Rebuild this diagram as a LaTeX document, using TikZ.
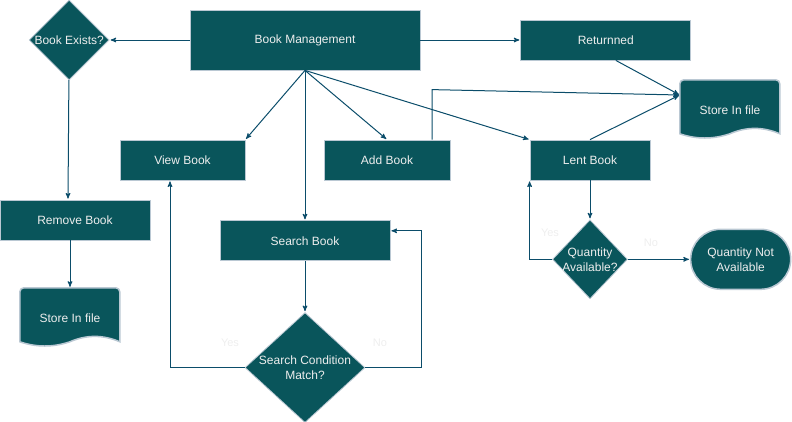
\documentclass[tikz,border=0pt]{standalone}
\usepackage{fontspec}
\setmainfont{Liberation Sans}
\usetikzlibrary{arrows,positioning,shapes.geometric,backgrounds}
\definecolor{boxfill}{HTML}{09555B}
\definecolor{boxline}{HTML}{BAC8D3}
\definecolor{linkcol}{HTML}{0B4D6A}
\definecolor{boxtext}{HTML}{EEEEEE}

\newcommand{\storeshape}[1]{%
	\begin{scope}[on background layer]
		\filldraw[fill=boxfill,draw=boxline,line width=1.5pt,shift={(#1.north west)}]
			(0,54) [rounded corners=4pt] -- (0,0) -- (100,0) [sharp corners] -- (100,54)
			.. controls (83.3,46.8) and (66.7,46.8) .. (50,54)
			.. controls (33.3,59.6) and (16.7,59.6) .. (0,54) -- cycle;
	\end{scope}}

\begin{document}
\begin{tikzpicture}[->,>=stealth',shorten >=1pt,auto,x=1pt,y=-1pt,
		every node/.style={font=\fontsize{12}{15}\selectfont},
		every label/.style={text=boxtext,align=center},
		process node/.style={rectangle,draw=boxline,fill=boxfill,text=boxtext,line width=0.8pt,inner sep=0pt},
		decision node/.style={diamond,draw=boxline,fill=boxfill,line width=0.8pt,inner sep=0pt},
		store node/.style={rectangle,text=boxtext,minimum width=100pt,minimum height=60pt,inner sep=0pt},
		end node/.style={rectangle,rounded corners=30pt,draw=boxline,fill=boxfill,text=boxtext,line width=1.5pt,
			minimum width=100pt,minimum height=60pt,align=center,inner sep=0pt},
		answer node/.style={text=boxtext,font=\fontsize{11}{13}\selectfont},
		link/.style={color=linkcol,line width=1pt}]
	\useasboundingbox (0,0) rectangle (792,421);
	\node[process node,minimum width=230pt,minimum height=60pt] (0) at (305,40) {Book Management};
	\node[decision node,minimum width=80pt,minimum height=80pt,label=center:Book Exists?] (1) [left =80pt of 0] {};
	\node[process node,minimum width=170pt,minimum height=40pt] (2) [right =100pt of 0] {Returnned};
	\node[process node,minimum width=125pt,minimum height=40pt] (3) at (182.5,160) {View Book};
	\node[process node,minimum width=126pt,minimum height=40pt] (4) at (387,160) {Add Book};
	\node[process node,minimum width=120pt,minimum height=40pt] (5) at (590,160) {Lent Book};
	\node[process node,minimum width=170pt,minimum height=40pt] (6) [below =150pt of 0] {Search Book};
	\node[decision node,minimum width=120pt,minimum height=110pt,label={center:Search Condition\\Match?}] (7) [below =51pt of 6] {};
	\node[decision node,minimum width=75pt,minimum height=79pt,label={center:Quantity\\Available?}] (8) [below =39pt of 5] {};
	\node[end node] (9) [right =62pt of 8] {Quantity Not\\Available};
	\node[process node,minimum width=150pt,minimum height=40pt] (10) at (75,220) {Remove Book};
	\node[store node] (11) at (70,318) {Store In file};
	\node[store node] (12) at (730,110) {Store In file};
	\storeshape{11}
	\storeshape{12}
	\node[answer node] (100) at (230,343) {Yes};
	\node[answer node] (101) at (380,343) {No};
	\node[answer node] (102) at (550,233) {Yes};
	\node[answer node] (103) at (651,243) {No};
	%
	% Book Management to its actions.
	\path[link]
		(0) edge (1)
		(0) edge (2)
		(0.south) edge (3.north east)
		(0.south) edge (6)
		(0.south) edge (4.north)
		(0.south) edge (5.north west);
	%
	% Removing a book.
	\path[link]
		(1) edge ([xshift=-7pt]10.north)
		(10.south -| 11.north) edge (11.north);
	%
	% Returned, added and lent books go to the file.
	\coordinate (13) at ([yshift=15pt]12.west);
	\draw[link] ([xshift=10pt]2.south) -- (13);
	\draw[link] ([xshift=45pt]4.north) -- ++(0,-50) -- (13);
	\draw[link] (5.north) -- (13);
	%
	% Lending check.
	\path[link]
		(5) edge (8)
		(8) edge (9);
	\draw[link] (8.west) -| (5.south west);
	%
	% Search loop.
	\path[link] (6) edge (7);
	\draw[link] (7.west) -| ([xshift=-12.5pt]3.south);
	\draw[link] (7.east) -- ++(56,0) |- ([yshift=10pt]6.east);
\end{tikzpicture}
\end{document}
